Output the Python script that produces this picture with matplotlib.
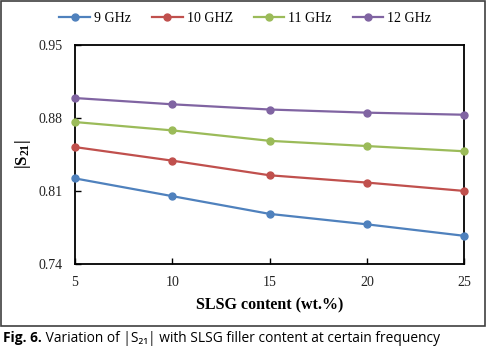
import matplotlib
matplotlib.use("Agg")
import matplotlib.pyplot as plt
from matplotlib.patches import Rectangle

# data
content = [5, 10, 15, 20, 25]
s21_9ghz = [0.822, 0.805, 0.788, 0.778, 0.767]
s21_10ghz = [0.852, 0.839, 0.825, 0.818, 0.810]
s21_11ghz = [0.876, 0.868, 0.858, 0.853, 0.848]
s21_12ghz = [0.899, 0.893, 0.888, 0.885, 0.883]
labels = ["9 GHz", "10 GHZ", "11 GHz", "12 GHz"]
colors = ["#4F81BD", "#C0504D", "#9BBB59", "#8064A2"]
yticks = [0.74, 0.81, 0.88, 0.95]
xticks = [5, 10, 15, 20, 25]

plt.rcParams["font.family"] = ["Liberation Serif", "DejaVu Serif"]
plt.rcParams["mathtext.fontset"] = "custom"
plt.rcParams["mathtext.rm"] = "Liberation Serif"
plt.rcParams["mathtext.bf"] = "Liberation Serif:bold"

fig = plt.figure(figsize=(4.87, 3.49), dpi=100)
ax = fig.add_axes([0.154, 0.2436, 0.799, 0.628])

for series, lab, c in zip([s21_9ghz, s21_10ghz, s21_11ghz, s21_12ghz], labels, colors):
    ax.plot(content, series, color=c, lw=1.6, marker="o", ms=5, label=lab,
            clip_on=False, zorder=3)

ax.set_xlim(5, 25)
ax.set_ylim(0.74, 0.95)
ax.set_xticks(xticks)
ax.set_yticks(yticks)
ax.set_yticklabels([f"{v:.2f}" for v in yticks])
ax.tick_params(direction="in", length=4, width=1, pad=9, labelsize=10,
               labelcolor="#222222")
for sp in ax.spines.values():
    sp.set_linewidth(1.3)
    sp.set_color("black")

ax.set_xlabel("SLSG content (wt.%)", fontsize=11.5, fontweight="bold", labelpad=6)
ax.set_ylabel(r"$\mathbf{|S_{21}|}$", fontsize=12)
ax.yaxis.set_label_coords(-0.108, 0.5)

fig.legend(loc="center", bbox_to_anchor=(0.504, 0.948), ncol=4, frameon=False,
           fontsize=10, handlelength=2.2, handletextpad=0.3, columnspacing=1.5)

# outer frame around the chart
fig.patches.append(Rectangle((1 / 487, 23 / 349), 484 / 487, 325.5 / 349,
                             transform=fig.transFigure, fill=False,
                             edgecolor="#404040", lw=1.2))

# caption
cap = fig.text(3 / 487, 1 - 338 / 349, "Fig. 6.", fontsize=9.9, fontweight="bold",
               family=["Open Sans", "DejaVu Sans"], va="center", ha="left")
plt.annotate(" Variation of |S\u2082\u2081| with SLSG filler content at certain frequency",
             xy=(1, 0.5), xycoords=cap, va="center", ha="left", fontsize=9.9,
             family=["Open Sans", "DejaVu Sans"], annotation_clip=False)

fig.savefig("out.png", dpi=100, facecolor="white")
